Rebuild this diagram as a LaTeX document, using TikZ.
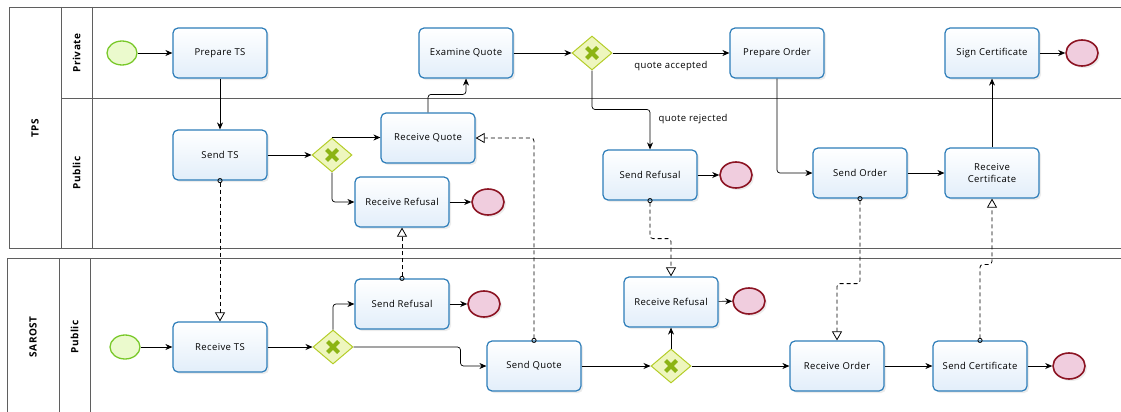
\documentclass[tikz,border=0pt]{standalone}
\usepackage{fontspec}
\setmainfont[LetterSpace=4]{Open Sans}
\usetikzlibrary{arrows.meta,shapes.geometric,shadows}
\definecolor{taskline}{RGB}{45,125,185}
\definecolor{taskfill}{RGB}{226,238,250}
\definecolor{startline}{RGB}{120,200,40}
\definecolor{startfill}{RGB}{235,250,205}
\definecolor{endline}{RGB}{140,20,35}
\definecolor{endfill}{RGB}{240,205,222}
\definecolor{gwline}{RGB}{180,205,40}
\definecolor{gwfill}{RGB}{238,246,190}
\definecolor{gwcross}{RGB}{140,180,20}
\definecolor{poolline}{RGB}{95,95,95}
\tikzset{
	task/.style={draw=taskline, line width=1.2pt, rounded corners=5pt, top color=white, bottom color=taskfill, minimum width=94pt, minimum height=50pt, align=center, font=\fontsize{9.5}{12}\selectfont, drop shadow={opacity=0.15, shadow xshift=2pt, shadow yshift=-2pt}},
	startev/.style={ellipse, draw=startline, line width=1.3pt, fill=startfill, minimum width=30pt, minimum height=24pt, inner sep=0pt},
	endev/.style={ellipse, draw=endline, line width=1.6pt, fill=endfill, minimum width=32pt, minimum height=26pt, inner sep=0pt, drop shadow={opacity=0.15, shadow xshift=2pt, shadow yshift=-2pt}},
	gw/.style={diamond, draw=gwline, line width=1pt, fill=gwfill, minimum width=40pt, minimum height=34pt, inner sep=0pt,
		path picture={\draw[gwcross, line width=4pt] ([shift={(-5.5pt,-5.5pt)}]path picture bounding box.center) -- ([shift={(5.5pt,5.5pt)}]path picture bounding box.center) ([shift={(-5.5pt,5.5pt)}]path picture bounding box.center) -- ([shift={(5.5pt,-5.5pt)}]path picture bounding box.center);}},
	flow/.style={-{Stealth[length=7pt,width=6pt]}, line width=0.7pt, rounded corners=3pt},
	msg/.style={{Circle[open,length=5pt,width=5pt]}-{Triangle[open,length=9pt,width=10pt]}, dash pattern=on 4pt off 3pt, line width=0.8pt, shorten <=-2.5pt, rounded corners=3pt},
	lbl/.style={font=\fontsize{9.5}{11}\selectfont},
	lane/.style={rotate=90, font=\bfseries\fontsize{10}{11}\selectfont},
}
\begin{document}
\begin{tikzpicture}[x=1pt, y=-1pt]
			%%%%% START %%%%%
			\useasboundingbox (0,0) rectangle (1121,412);
			
			% pools and lanes
			\draw[poolline, line width=0.8pt] (9,7) rectangle (1130,248);
			\draw[poolline, line width=0.8pt] (61,7) -- (61,248);
			\draw[poolline, line width=0.8pt] (92,7) -- (92,248);
			\draw[poolline, line width=0.8pt] (61,98) -- (1130,98);
			\draw[poolline, line width=0.8pt] (7,258) rectangle (1130,420);
			\draw[poolline, line width=0.8pt] (59,258) -- (59,420);
			\draw[poolline, line width=0.8pt] (90,258) -- (90,420);
			
			\node[lane] (tps) at (35,128) {TPS};
			\node[lane] (priv) at (76.5,53) {Private};
			\node[lane] (pubT) at (76.5,173) {Public};
			\node[lane] (sarost) at (33,337) {SAROST};
			\node[lane] (pubS) at (74.5,337) {Public};
			
			% TPS
			\node[startev] (startT) at (122,53) {};
			\node[task] (prepTS) at (220,53) {Prepare TS};
			\node[task] (sendTS) at (220,155) {Send TS};
			\node[gw] (gw1) at (332,155) {};
			\node[task] (recQuote) at (428,138) {Receive Quote};
			\node[task] (recRef) at (402,202) {Receive Refusal};
			\node[endev] (endT1) at (488,202) {};
			\node[task] (exQuote) at (466,53) {Examine Quote};
			\node[gw] (gw2) at (592,53) {};
			\node[task] (prepOrd) at (777,53) {Prepare Order};
			\node[task] (sendRefT) at (650,175) {Send Refusal};
			\node[endev] (endT2) at (736,175) {};
			\node[task] (signCert) at (992,53) {Sign Certificate};
			\node[endev] (endT3) at (1082,53) {};
			\node[task] (sendOrd) at (860,173) {Send Order};
			\node[task] (recCert) at (992,173) {Receive\\Certificate};
			
			% SAROST
			\node[startev] (startS) at (125,347) {};
			\node[task] (recTS) at (220,347) {Receive TS};
			\node[gw] (gw3) at (333,347) {};
			\node[task] (sendRefS) at (402,304) {Send Refusal};
			\node[endev] (endS1) at (484,304) {};
			\node[task] (sendQuote) at (534,366) {Send Quote};
			\node[gw] (gw4) at (671,366) {};
			\node[task] (recRefS) at (671,302) {Receive Refusal};
			\node[endev] (endS2) at (749,301) {};
			\node[task] (recOrd) at (837,366) {Receive Order};
			\node[task] (sendCert) at (980,366) {Send Certificate};
			\node[endev] (endS3) at (1069,366) {};
			
			% sequence flows
			\draw[flow] (startT) -- (prepTS);
			\draw[flow] (prepTS) -- (sendTS);
			\draw[flow] (sendTS) -- (gw1);
			\draw[flow] (gw1.north) -- (gw1.north -| recQuote.west);
			\draw[flow] (gw1.south) |- (recRef);
			\draw[flow] (recRef) -- (endT1);
			\draw[flow] (recQuote.north) -- ++(0,-18) -| (exQuote.south);
			\draw[flow] (exQuote) -- (gw2);
			\draw[flow] (gw2) -- node[lbl, below=5pt] {quote accepted} (prepOrd);
			\draw[flow] (gw2.south) -- ++(0,39) -| node[lbl, pos=0.62, anchor=west, xshift=5pt] {quote rejected} (sendRefT);
			\draw[flow] (sendRefT) -- (endT2);
			\draw[flow] (prepOrd) |- (sendOrd);
			\draw[flow] (sendOrd) -- (recCert);
			\draw[flow] (recCert) -- (signCert);
			\draw[flow] (signCert) -- (endT3);
			
			\draw[flow] (startS) -- (recTS);
			\draw[flow] (recTS) -- (gw3);
			\draw[flow] (gw3.north) |- (sendRefS);
			\draw[flow] (sendRefS) -- (endS1);
			\draw[flow] (gw3.east) -- ++(107,0) |- (sendQuote);
			\draw[flow] (sendQuote) -- (gw4);
			\draw[flow] (gw4) -- (recRefS);
			\draw[flow] (recRefS) -- (endS2);
			\draw[flow] (gw4) -- (recOrd);
			\draw[flow] (recOrd) -- (sendCert);
			\draw[flow] (sendCert) -- (endS3);
			
			% message flows
			\draw[msg] (sendTS.south) -- (recTS.north);
			\draw[msg] (sendQuote.north) |- (recQuote.east);
			\draw[msg] (sendRefS.north) -- (recRef.south);
			\draw[msg] (sendRefT.south) -- ++(0,38) -| (recRefS.north);
			\draw[msg] (sendOrd.south) -- ++(0,85) -| (recOrd.north);
			\draw[msg] (sendCert.north) -- ++(0,-76) -| (recCert.south);
			
			%%%%% END %%%%%
		\end{tikzpicture}
\end{document}
